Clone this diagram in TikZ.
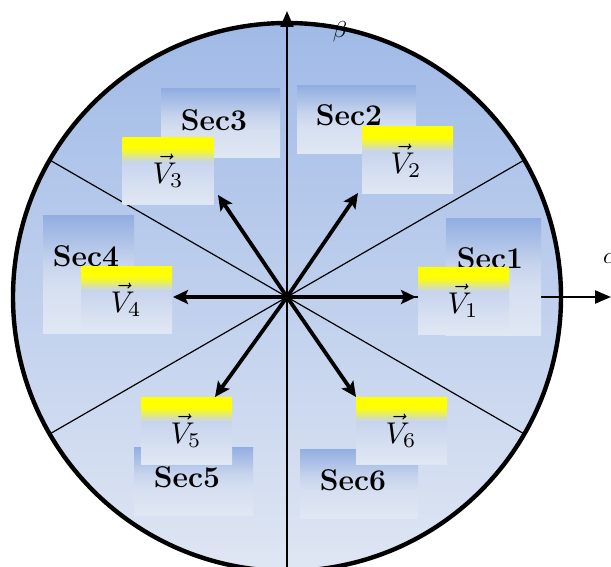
\documentclass[tikz,border=0pt]{standalone}
\usepackage{graphicx}
\usetikzlibrary{arrows.meta}
\definecolor{bgtop}{RGB}{160,186,231}
\definecolor{bgmid}{RGB}{203,216,239}
\definecolor{bgbot}{RGB}{223,230,243}
\definecolor{secblue}{RGB}{146,174,225}
\definecolor{boxmid}{RGB}{199,212,237}
\definecolor{boxlight}{RGB}{224,231,244}
\colorlet{secmix}{boxlight!60!boxmid}
\colorlet{ymix}{yellow!80!boxmid}
\pgfdeclareverticalshading{secshade}{100bp}{color(0bp)=(boxlight); color(25bp)=(boxlight); color(45bp)=(secmix); color(55bp)=(boxmid); color(75bp)=(secblue); color(100bp)=(secblue)}
\pgfdeclareverticalshading{vshade}{100bp}{color(0bp)=(boxlight); color(25bp)=(boxlight); color(40bp)=(secmix); color(57bp)=(boxmid); color(65bp)=(ymix); color(68bp)=(yellow); color(100bp)=(yellow)}
\newcommand{\vlab}[1]{\scalebox{3.0}{$\vec{V}_{#1}$}}
\tikzset{
  secbox/.style={shading=secshade, inner sep=0pt, draw=none},
  vbox/.style={shading=vshade, inner sep=0pt, draw=none, minimum width=91pt, minimum height=67pt},
  sectext/.style={inner sep=0pt, font=\fontsize{30}{33}\selectfont\bfseries},
  vtext/.style={inner sep=0pt},
  axislabel/.style={inner sep=0pt},
  sectorline/.style={line width=1.2pt},
  axisline/.style={line width=2.3pt, -{Triangle[length=16pt,width=13pt]}},
  vecarrow/.style={line width=3.8pt, -{Stealth[length=15pt,width=14pt,inset=3pt]}}
}
\begin{document}
\begin{tikzpicture}[x=1pt,y=-1pt]
\useasboundingbox (0,0) rectangle (611,567);
\clip (0,0) rectangle (611,567);
\coordinate (O) at (287,297);
% circle fill
\shade[top color=bgtop, middle color=bgmid, bottom color=bgbot] (O) circle[radius=274pt];
% sector lines
\coordinate (e30) at (524.3,160);
\coordinate (e150) at (49.7,160);
\coordinate (e210) at (49.7,434);
\coordinate (e330) at (524.3,434);
\foreach \e in {e30,e150,e210,e330} \draw[sectorline] (O) -- (\e);
% axes
\coordinate (ybot) at (287,580);
\coordinate (ytop) at (287,11);
\coordinate (xend) at (611,297);
\draw[axisline] (ybot) -- (ytop);
\draw[axisline] (O) -- (xend);
% circle outline
\draw[line width=4.4pt] (O) circle[radius=274pt];
% vectors
\coordinate (t1) at (416,297);
\coordinate (t2) at (358,193);
\coordinate (t3) at (218,195);
\coordinate (t4) at (173,297);
\coordinate (t5) at (215,397);
\coordinate (t6) at (356,397);
\foreach \t in {t1,t2,t3,t4,t5,t6} \draw[vecarrow] (O) -- (\t);
% sector boxes
\node[secbox, minimum width=119pt, minimum height=69pt] (s3) at (220.5,123.5) {};
\node[secbox, minimum width=119pt, minimum height=68pt] (s2) at (356.5,120) {};
\node[secbox, minimum width=91pt, minimum height=117pt] (s4) at (88.5,274.5) {};
\node[secbox, minimum width=95pt, minimum height=116pt] (s1) at (493.5,277) {};
\node[secbox, minimum width=119pt, minimum height=68pt] (s5) at (193.5,481) {};
\node[secbox, minimum width=118pt, minimum height=69pt] (s6) at (359,483.5) {};
\node[sectext] (l3) at (214,120) {Sec3};
\node[sectext] (l2) at (349,115) {Sec2};
\node[sectext] (l1) at (490,258) {Sec1};
\node[sectext] (l4) at (86,256) {Sec4};
\node[sectext] (l5) at (187,477) {Sec5};
\node[sectext] (l6) at (353,480) {Sec6};
% vector boxes
\node[vbox] (v3) at (168,171) {};
\node[vbox] (v2) at (407.5,160.5) {};
\node[vbox] (v4) at (126.5,299.5) {};
\node[vbox] (v1) at (463.5,300.5) {};
\node[vbox] (v5) at (186.5,430.5) {};
\node[vbox] (v6) at (401.5,430.5) {};
\node[vtext] (n3) at (168,171) {\vlab{3}};
\node[vtext] (n2) at (406,161) {\vlab{2}};
\node[vtext] (n1) at (463,301) {\vlab{1}};
\node[vtext] (n4) at (126,300) {\vlab{4}};
\node[vtext] (n5) at (186,431) {\vlab{5}};
\node[vtext] (n6) at (401,431) {\vlab{6}};
% axis labels
\node[axislabel] (beta) at (340,32) {\scalebox{2.3}{$\beta$}};
\node[axislabel, anchor=west] (alpha) at (603,259) {\scalebox{2.3}{$\alpha$}};
\end{tikzpicture}
\end{document}
